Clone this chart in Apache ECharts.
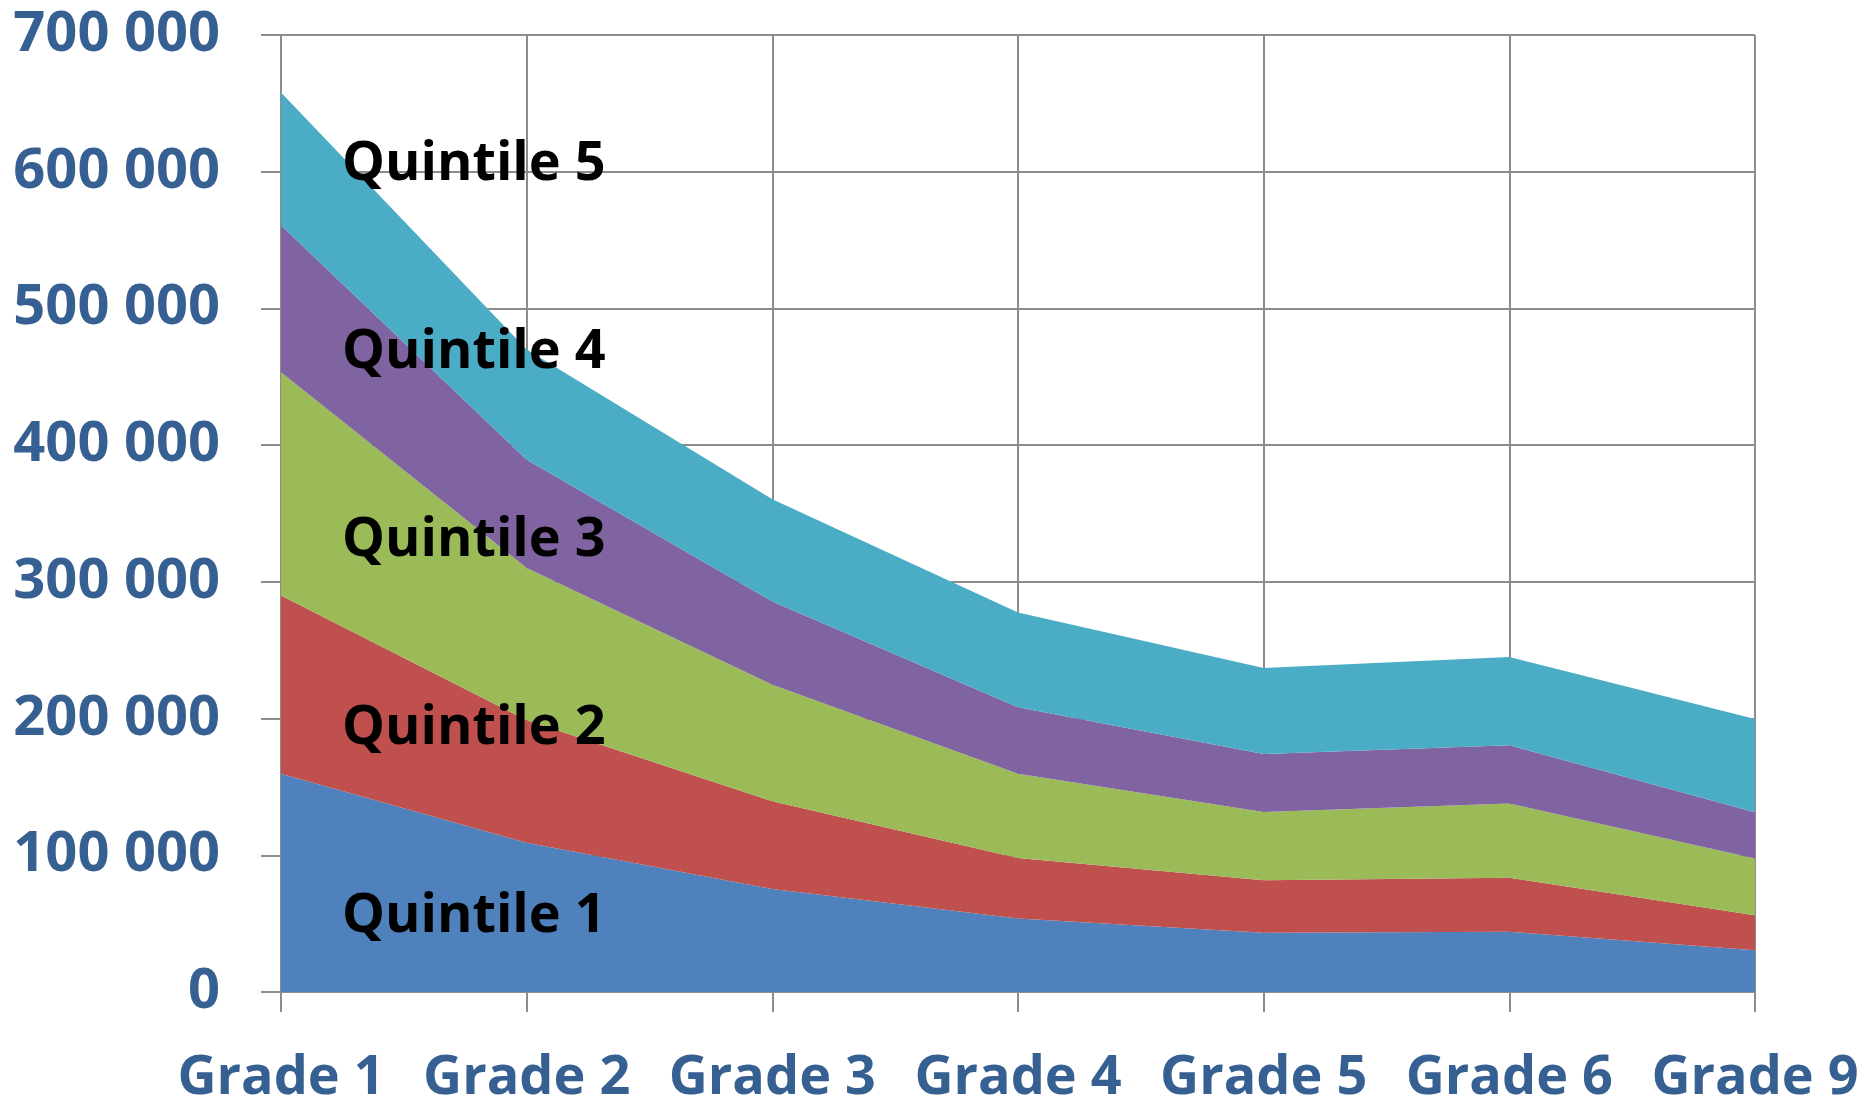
<!DOCTYPE html>
<html>
<head>
<meta charset="utf-8">
<title>Quintiles by grade</title>
<script src="https://cdn.jsdelivr.net/npm/echarts@6/dist/echarts.min.js"></script>
<style>
    html, body { margin: 0; padding: 0; background: #fff; }
    #main { width: 1876px; height: 1099px; }
</style>
</head>
<body>
<div id="main"></div>
<script>
// 年级
var grades = ['Grade 1', 'Grade 2', 'Grade 3', 'Grade 4', 'Grade 5', 'Grade 6', 'Grade 9'];
// 各五分位人数（堆叠）
var quintile1 = [159700, 109100, 75400, 53700, 43300, 44000, 30600];
var quintile2 = [130300, 89600, 64100, 44400, 38400, 39500, 25500];
var quintile3 = [163400, 111400, 85300, 61600, 50000, 54300, 41500];
var quintile4 = [107400, 79200, 60900, 48500, 42400, 42600, 33800];
var quintile5 = [97200, 80700, 74800, 69400, 62900, 64600, 68300];
var seriesNames = ['Quintile 1', 'Quintile 2', 'Quintile 3', 'Quintile 4', 'Quintile 5'];
var seriesColors = ['#4F81BD', '#C0504D', '#9BBB59', '#8064A2', '#4BACC6'];
// 区域标签的纵向位置
var labelTops = [913, 725, 537, 349, 161];

var axisColor = '#376092';
var lineColor = '#8c8c8c';

var myChart = echarts.init(document.getElementById('main'));

function makeSeries(name, data, color) {
    return {
        name: name,
        type: 'line',
        stack: 'total',
        data: data,
        symbol: 'none',
        lineStyle: { width: 0 },
        areaStyle: { color: color, opacity: 1 },
        itemStyle: { color: color },
        emphasis: { disabled: true }
    };
}

var allData = [quintile1, quintile2, quintile3, quintile4, quintile5];
var series = [];
for (var i = 0; i < allData.length; i++) {
    series.push(makeSeries(seriesNames[i], allData[i], seriesColors[i]));
}

// 区域名称文字
var labels = [];
for (var j = 0; j < seriesNames.length; j++) {
    labels.push({
        type: 'text',
        left: 342,
        top: labelTops[j] - 23,
        z: 100,
        style: {
            text: seriesNames[j],
            fill: '#000',
            font: 'bold 54px "Open Sans"'
        }
    });
}

var option = {
    animation: false,
    grid: {
        left: 281,
        right: 121,
        top: 35,
        bottom: 107,
        containLabel: false,
        outerBoundsMode: 'none'
    },
    xAxis: {
        type: 'category',
        data: grades,
        boundaryGap: false,
        axisLine: { show: true, lineStyle: { color: lineColor, width: 2 } },
        axisTick: { show: true, interval: 0, length: 20, lineStyle: { color: lineColor, width: 2 } },
        splitLine: { show: true, interval: 0, lineStyle: { color: lineColor, width: 2 } },
        axisLabel: {
            interval: 0,
            hideOverlap: false,
            margin: 60,
            color: axisColor,
            fontFamily: 'Open Sans',
            fontWeight: 'bold',
            fontSize: 54
        }
    },
    yAxis: {
        type: 'value',
        min: 0,
        max: 700000,
        interval: 100000,
        axisLine: { show: true, lineStyle: { color: lineColor, width: 2 } },
        axisTick: { show: true, length: 20, lineStyle: { color: lineColor, width: 2 } },
        splitLine: { show: true, lineStyle: { color: lineColor, width: 2 } },
        axisLabel: {
            margin: 61,
            color: axisColor,
            fontFamily: 'Open Sans',
            fontWeight: 'bold',
            fontSize: 56,
            formatter: function(v) {
                return String(v).replace(/\B(?=(\d{3})+(?!\d))/g, ' ');
            }
        }
    },
    series: series,
    graphic: labels
};

myChart.setOption(option);
</script>
</body>
</html>
